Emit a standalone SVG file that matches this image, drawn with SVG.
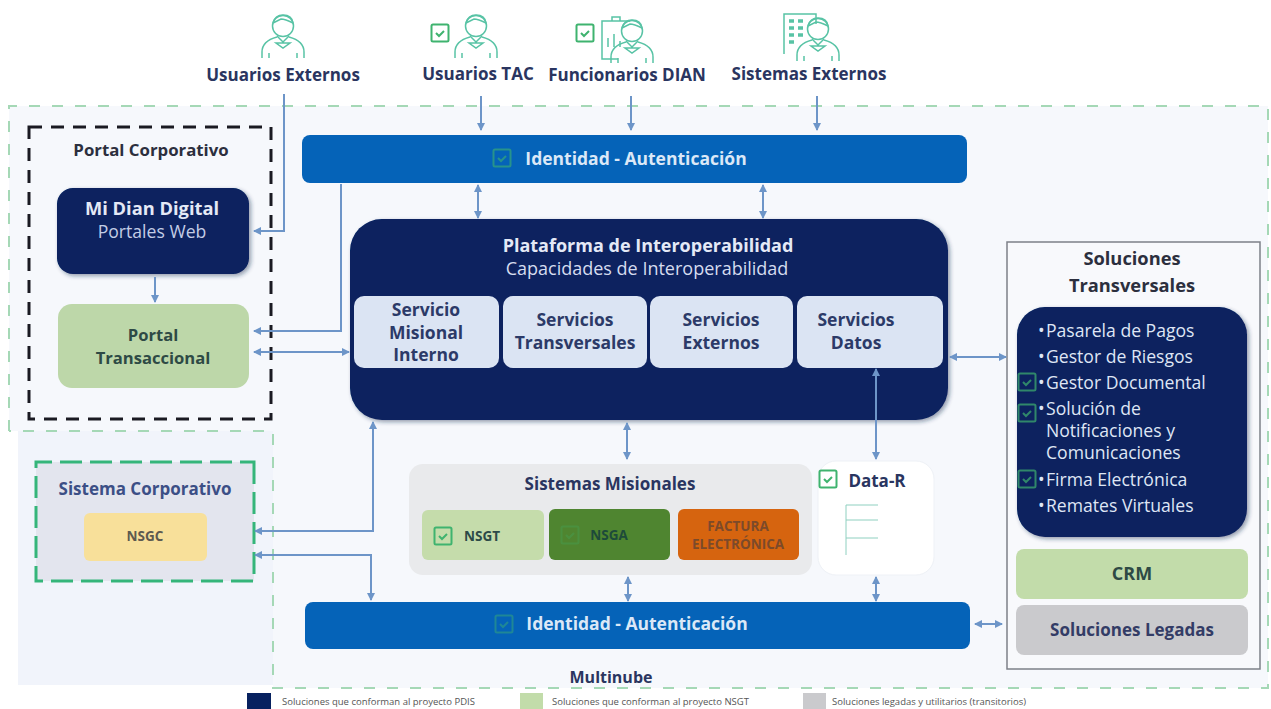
<svg xmlns="http://www.w3.org/2000/svg" width="1271" height="709" viewBox="0 0 1271 709">
<style>
text{font-family:"Open Sans","Noto Sans","Liberation Sans",sans-serif;text-anchor:middle}
.b{font-weight:700}
.dk{fill:#2a3560}
.nv{fill:#07215f}
.blue{fill:#0563b8}
.pale{fill:#dbe4f3}
.sv{font-size:17.500px;font-weight:700;fill:#2c3a68}
.ln{fill:none;stroke:#6d95c8;stroke-width:2}
.li{font-size:17.600px;fill:#dfe6f5;text-anchor:start}
.chk{fill:none;stroke:#3fb36f;stroke-width:2}
.ic{fill:none;stroke:#58c3a5;stroke-width:1.5}
.leg{font-size:9.500px;fill:#555;text-anchor:start}
.top{font-size:17px}
.idn{font-size:17.500px;fill:#dbe8f7}
</style>
<defs>
<marker id="a" viewBox="0 0 8 8" refX="7" refY="4" markerWidth="8" markerHeight="8" markerUnits="userSpaceOnUse" orient="auto-start-reverse"><path d="M0 0L8 4L0 8Z" fill="#6d95c8"/></marker>
<filter id="sh" x="-10%" y="-10%" width="125%" height="125%"><feDropShadow dx="2" dy="2" stdDeviation="2" flood-color="#1b2a50" flood-opacity=".45"/></filter>
<g id="person"><circle cx="0" cy="-12" r="10.500" class="ic"/><path d="M-10-15q2-8 10-8q9 0 10 8q-8-4-12-4q-4 2-8 4M-6-2l6 6l6-6M-21 20v-6q0-11 15-15M21 20v-6q0-11-15-15M-7 5h14l-7 5zM-14 20v-5M14 20v-5" class="ic"/></g>
<g id="tick"><rect x="-8.500" y="-8.500" width="17" height="17" rx="1.500" class="chk"/><path d="M-4 0l3 3l5-5" class="chk"/></g>
</defs>
<rect width="1271" height="709" fill="#fff"/>
<g id="multinube">
<path d="M9 106H1268V688H273V431H9Z" fill="#f6f8fc"/>
<rect x="18" y="431" width="255" height="254" fill="#f1f4fb"/>
<path d="M9 431V106H1268V688H273V431H9" fill="none" stroke="#a5d8b6" stroke-width="2" stroke-dasharray="11 12"/>
<text x="611" y="683" class="b dk" font-size="16">Multinube</text>
</g>
<g id="usuarios-externos"><use href="#person" x="283" y="38"/><text x="283" y="81" class="b dk top">Usuarios Externos</text></g>
<g id="usuarios-tac"><use href="#tick" x="440" y="33"/><use href="#person" x="476" y="38"/><text x="478" y="80" class="b dk top">Usuarios TAC</text></g>
<g id="funcionarios-dian"><use href="#tick" x="585" y="33"/><path d="M630 21h-28v38h16M612 21v-4h8v4M608 47v-9M614 47v-13M620 47v-6" class="ic"/><use href="#person" x="632" y="43"/><text x="627" y="81" class="b dk top">Funcionarios DIAN</text></g>
<g id="sistemas-externos"><path d="M784 54V14h32v10" class="ic"/><path d="M789 21h5M798 21h5M789 28h5M798 28h5M789 35h5M798 35h5M789 42h5" fill="none" stroke="#58c3a5" stroke-width="3.500"/><use href="#person" x="818" y="41"/><text x="809" y="80" class="b dk top">Sistemas Externos</text></g>

<g id="portal-corporativo">
<path d="M29 127H271V419H29Z" fill="#f6f8fc" stroke="#1a1a22" stroke-width="3" stroke-dasharray="13 9"/>
<text x="151" y="156" class="b" fill="#2c2f3e" font-size="16.800">Portal Corporativo</text>
</g>
<g id="mi-dian-digital"><rect x="57" y="188" width="192" height="86" rx="16" class="nv" filter="url(#sh)"/><text x="152" y="215" class="b" fill="#e4e9f6" font-size="18.300">Mi Dian Digital</text><text x="152" y="238" fill="#c3cde6" font-size="17.600">Portales Web</text></g>
<g id="portal-transaccional"><rect x="58" y="304" width="191" height="84" rx="14" fill="#bdd7a9"/><text x="153" y="341" class="b" fill="#2e4a45" font-size="16.600">Portal</text><text x="153" y="364" class="b" fill="#2e4a45" font-size="16.600">Transaccional</text></g>

<g id="identidad-top"><rect x="302" y="135" width="665" height="48" rx="8" class="blue"/><use href="#tick" x="502" y="158" opacity=".6"/><text x="636" y="165" class="b idn">Identidad - Autenticación</text></g>

<g id="plataforma"><rect x="350" y="219" width="598" height="201" rx="32" class="nv" filter="url(#sh)"/>
<text x="648" y="252" class="b" fill="#e4e9f6" font-size="18">Plataforma de Interoperabilidad</text><text x="647" y="275" fill="#d5dcef" font-size="18">Capacidades de Interoperabilidad</text></g>
<g id="servicio-misional"><rect x="354" y="296" width="145" height="72" rx="10" class="pale"/><text x="426" y="316" class="sv">Servicio</text><text x="426" y="339" class="sv">Misional</text><text x="426" y="361" class="sv">Interno</text></g>
<g id="servicios-transversales"><rect x="503" y="296" width="144" height="72" rx="10" class="pale"/><text x="575" y="326" class="sv">Servicios</text><text x="575" y="349" class="sv">Transversales</text></g>
<g id="servicios-externos"><rect x="650" y="296" width="143" height="72" rx="10" class="pale"/><text x="721" y="326" class="sv">Servicios</text><text x="721" y="349" class="sv">Externos</text></g>
<g id="servicios-datos"><rect x="797" y="296" width="146" height="72" rx="10" class="pale"/><text x="856" y="326" class="sv">Servicios</text><text x="856" y="349" class="sv">Datos</text></g>

<g id="sistema-corporativo"><rect x="36" y="462" width="218" height="119" fill="#e3e5ee"/><path d="M254 462V581H36V462Z" fill="none" stroke="#35b57a" stroke-width="3" stroke-dasharray="22 8"/>
<text x="145" y="495" class="b" fill="#3c4f86" font-size="17">Sistema Corporativo</text><rect x="84" y="513" width="123" height="48" rx="6" fill="#f8e09a"/><text x="145" y="541" class="b" fill="#5d5a50" font-size="13.500">NSGC</text></g>

<g id="sistemas-misionales"><rect x="409" y="464" width="403" height="111" rx="14" fill="#e9eaec"/><text x="610" y="490" class="b dk" font-size="17">Sistemas Misionales</text></g>
<g id="nsgt"><rect x="422" y="510" width="122" height="50" rx="6" fill="#c5dcab"/><use href="#tick" x="443" y="536"/><text x="482" y="541" class="b" fill="#2c4a48" font-size="13.500">NSGT</text></g>
<g id="nsga"><rect x="549" y="509" width="121" height="51" rx="6" fill="#4f8530"/><use href="#tick" x="570" y="535" opacity=".25"/><text x="609" y="540" class="b" fill="#1d4a3a" font-size="13.500">NSGA</text></g>
<g id="factura"><rect x="678" y="509" width="121" height="51" rx="6" fill="#d6640f"/><text x="738" y="531" class="b" fill="#7c4a2a" font-size="13.500">FACTURA</text><text x="738" y="549" class="b" fill="#7c4a2a" font-size="13.500">ELECTRÓNICA</text></g>
<g id="data-r"><rect x="818" y="461" width="116" height="114" rx="18" fill="#fff" stroke="#eef1f6"/><use href="#tick" x="828" y="479"/><text x="877" y="487" class="b dk" font-size="17">Data-R</text>
<path d="M846 505h32M846 520h32M846 538h32M846 505v50" fill="none" stroke="#8fd0c0" stroke-width="1"/></g>

<g id="identidad-bottom"><rect x="305" y="602" width="665" height="47" rx="8" class="blue"/><use href="#tick" x="504" y="624" opacity=".45"/><text x="637" y="630" class="b idn">Identidad - Autenticación</text></g>

<g id="soluciones-transversales"><rect x="1007" y="242" width="253" height="427" fill="#f8f9fc" stroke="#7d8088" stroke-width="1.500"/>
<text x="1132" y="265" class="b" fill="#2c2f3e" font-size="18.300">Soluciones</text><text x="1132" y="292" class="b" fill="#2c2f3e" font-size="18.300">Transversales</text></g>
<g id="lista-soluciones"><rect x="1017" y="307" width="230" height="230" rx="28" class="nv" filter="url(#sh)"/>
<text class="li" x="1038" y="337">•<tspan x="1046">Pasarela de Pagos</tspan></text><text class="li" x="1038" y="363">•<tspan x="1046">Gestor de Riesgos</tspan></text><text class="li" x="1038" y="389">•<tspan x="1046">Gestor Documental</tspan></text><text class="li" x="1038" y="415">•<tspan x="1046">Solución de</tspan></text><text class="li" x="1046" y="437">Notificaciones y</text><text class="li" x="1046" y="459">Comunicaciones</text><text class="li" x="1038" y="486">•<tspan x="1046">Firma Electrónica</tspan></text><text class="li" x="1038" y="512">•<tspan x="1046">Remates Virtuales</tspan></text>
<use href="#tick" x="1027" y="382" opacity=".7"/><use href="#tick" x="1027" y="413" opacity=".7"/><use href="#tick" x="1027" y="479" opacity=".7"/></g>
<g id="crm"><rect x="1016" y="549" width="232" height="50" rx="8" fill="#c2dcaa"/><text x="1132" y="580" class="b" fill="#2e4a45" font-size="18">CRM</text></g>
<g id="soluciones-legadas"><rect x="1016" y="605" width="232" height="50" rx="8" fill="#cacacd"/><text x="1132" y="636" class="b" fill="#333c66" font-size="17">Soluciones Legadas</text></g>

<g id="conectores">
<path class="ln" d="M284 94V231H254" marker-end="url(#a)"/>
<path class="ln" d="M481 96V130" marker-end="url(#a)"/>
<path class="ln" d="M631 96V130" marker-end="url(#a)"/>
<path class="ln" d="M817 96V130" marker-end="url(#a)"/>
<path class="ln" d="M341 184V331H254" marker-end="url(#a)"/>
<path class="ln" d="M478 185V218" marker-start="url(#a)" marker-end="url(#a)"/>
<path class="ln" d="M763 185V218" marker-start="url(#a)" marker-end="url(#a)"/>
<path class="ln" d="M155 277V302" marker-end="url(#a)"/>
<path class="ln" d="M254 352H349" marker-start="url(#a)" marker-end="url(#a)"/>
<path class="ln" d="M950 357H1006" marker-start="url(#a)" marker-end="url(#a)"/>
<path class="ln" d="M627 423V459" marker-start="url(#a)" marker-end="url(#a)"/>
<path class="ln" d="M876 369V459" marker-start="url(#a)" marker-end="url(#a)"/>
<path class="ln" d="M373 422V531H255" marker-start="url(#a)" marker-end="url(#a)"/>
<path class="ln" d="M371 600V555H255" marker-start="url(#a)" marker-end="url(#a)"/>
<path class="ln" d="M628 577V601" marker-start="url(#a)" marker-end="url(#a)"/>
<path class="ln" d="M876 577V601" marker-start="url(#a)" marker-end="url(#a)"/>
<path class="ln" d="M975 624H1002" marker-start="url(#a)" marker-end="url(#a)"/>
</g>
<g id="leyenda">
<rect x="247" y="693" width="24" height="16" fill="#07215f"/><text class="leg" x="282" y="705">Soluciones que conforman al proyecto PDIS</text>
<rect x="520" y="693" width="23" height="16" fill="#c2dcaa"/><text class="leg" x="552" y="705">Soluciones que conforman al proyecto NSGT</text>
<rect x="803" y="693" width="23" height="16" fill="#cacacd"/><text class="leg" x="832" y="705">Soluciones legadas y utilitarios (transitorios)</text>
</g>
</svg>
